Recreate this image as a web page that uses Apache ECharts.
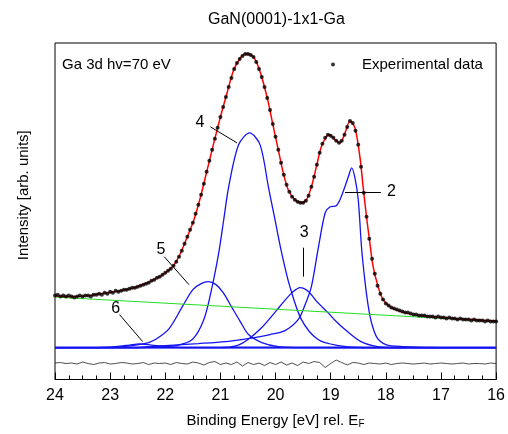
<!DOCTYPE html>
<html>
<head>
<meta charset="utf-8">
<script src="https://cdn.jsdelivr.net/npm/echarts@6/dist/echarts.min.js"></script>
<style>html,body{margin:0;padding:0;background:#fff}#c{width:508px;height:434px}</style>
</head>
<body>
<div id="c"></div>
<script>
// Binding energy ticks (eV)
const xTicks = [24, 23, 22, 21, 20, 19, 18, 17, 16];

// Experimental data [BE, intensity]
const expData = [
[24.00,52],[23.95,53],[23.90,51],[23.85,52],[23.80,51],[23.75,52],[23.70,51],[23.65,50],[23.60,51],[23.55,52],
[23.50,51],[23.45,52],[23.40,52],[23.35,51],[23.30,53],[23.25,53],[23.20,54],[23.15,53],[23.10,55],[23.05,54],
[23.00,56],[22.95,55],[22.90,57],[22.85,56],[22.80,57],[22.75,58],[22.70,58],[22.65,59],[22.60,60],[22.55,60],
[22.50,61],[22.45,62],[22.40,63],[22.35,64],[22.30,65],[22.25,67],[22.20,68],[22.15,70],[22.10,71],[22.05,73],
[22.00,75],[21.95,77],[21.90,79],[21.85,82],[21.80,86],[21.75,91],[21.70,97],[21.65,104],[21.60,111],[21.55,118],
[21.50,125],[21.45,134],[21.40,143],[21.35,153],[21.30,164],[21.25,176],[21.20,187],[21.15,198],[21.10,209],[21.05,220],
[21.00,231],[20.95,241],[20.90,251],[20.85,261],[20.80,270],[20.75,279],[20.70,285],[20.65,289],[20.60,292],[20.55,294],
[20.50,294],[20.45,293],[20.40,291],[20.35,286],[20.30,279],[20.25,271],[20.20,261],[20.15,250],[20.10,238],[20.05,224],
[20.00,211],[19.95,198],[19.90,185],[19.85,173],[19.80,163],[19.75,156],[19.70,151],[19.65,148],[19.60,146],[19.55,145],
[19.50,145],[19.45,147],[19.40,152],[19.35,161],[19.30,171],[19.25,183],[19.20,195],[19.15,204],[19.10,210],[19.05,213],
[19.00,212],[18.95,210],[18.90,207],[18.85,205],[18.80,207],[18.75,213],[18.70,221],[18.65,227],[18.60,225],[18.55,217],
[18.50,203],[18.45,181],[18.40,155],[18.35,131],[18.30,109],[18.25,89],[18.20,74],[18.15,62],[18.10,54],[18.05,48],
[18.00,44],[17.95,42],[17.90,40],[17.85,39],[17.80,38],[17.75,37],[17.70,36],[17.65,35],[17.60,35],[17.55,34],
[17.50,33],[17.45,33],[17.40,32],[17.35,32],[17.30,32],[17.25,31],[17.20,31],[17.15,31],[17.10,30],[17.05,31],
[17.00,30],[16.95,30],[16.90,29],[16.85,30],[16.80,29],[16.75,29],[16.70,28],[16.65,29],[16.60,28],[16.55,28],
[16.50,28],[16.45,27],[16.40,28],[16.35,27],[16.30,27],[16.25,27],[16.20,26],[16.15,27],[16.10,26],[16.05,26],[16.00,26]
];

// Fit envelope [BE, intensity]
const fitData = [
[24.00,51.5],[23.70,51],[23.40,52],[23.10,54.5],[22.80,57],[22.50,61],[22.20,68],[22.02,74],[21.84,83],[21.72,95],
[21.60,111],[21.48,128],[21.36,151],[21.24,178],[21.12,205],[21.00,231],[20.88,255],[20.76,278],[20.64,290],[20.55,294],
[20.50,294],[20.40,291],[20.31,281],[20.22,265],[20.13,245],[20.04,221],[19.95,198],[19.86,175],[19.77,158],[19.65,148],
[19.53,145],[19.44,148],[19.35,161],[19.26,181],[19.17,201],[19.08,211],[19.02,213],[18.92,208],[18.83,205],[18.74,215],
[18.65,227],[18.56,220],[18.47,191],[18.41,160],[18.35,131],[18.29,105],[18.23,81],[18.14,61],[18.05,48],[17.90,40],
[17.66,35],[17.36,32],[17.06,30.5],[16.76,29],[16.46,28],[16.00,26.5]
];

// Linear background [BE, intensity]
const bgData = [[24, 50.5], [16, 26.3]];

// Common zero baseline of the components [BE, intensity]
const zeroLine = [[24, 0], [16, 0]];

// Fit components [BE, intensity]
const comp2 = [[24,0],[22.6,0],[22.0,2],[21.4,4],[20.9,6],[20.5,9],[20.1,13],[19.83,17],[19.59,28],[19.47,42],[19.35,61],[19.23,98],[19.10,135],[19.01,141],[18.90,142],[18.81,151],[18.68,171],[18.62,180],[18.56,170],[18.50,148],[18.44,100],[18.38,67],[18.32,42],[18.26,25],[18.16,10],[18.00,3],[17.70,1],[17.00,0],[16,0]];
const comp3 = [[24,0],[21.0,0],[20.70,2],[20.50,8],[20.25,20],[20.00,36],[19.85,46],[19.70,55],[19.555,60],[19.40,56],[19.25,46],[19.05,35],[18.90,26],[18.74,18],[18.45,6],[18.15,1],[17.8,0],[16,0]];
const comp4 = [[24,0],[22.5,0],[22.11,1],[21.80,2],[21.51,8],[21.30,28],[21.15,61],[21.03,95],[20.94,128],[20.85,161],[20.67,203],[20.47,215],[20.28,203],[20.13,161],[20.01,128],[19.89,95],[19.74,61],[19.53,28],[19.23,8],[18.86,2],[18.40,0],[16,0]];
const comp5 = [[24,0],[23.0,0],[22.60,2],[22.30,5],[22.15,9],[21.93,19],[21.69,41],[21.50,58],[21.35,64],[21.22,66],[21.08,63],[20.95,55],[20.79,40],[20.65,27],[20.49,13],[20.25,5],[19.95,1],[19.5,0],[16,0]];
const comp6 = [[24,0],[23.30,0],[22.90,1],[22.65,2.5],[22.47,3.7],[22.25,2.5],[22.00,1],[21.70,0],[16,0]];

// Residual (data - fit) [BE, value]
const residual = [
[24.0,0.5],[23.9,1],[23.8,0],[23.7,0.5],[23.6,-0.5],[23.5,1.5],[23.4,0],[23.3,-1],[23.2,0.5],[23.1,1],
[23.0,-0.5],[22.9,0],[22.8,1],[22.7,0.5],[22.6,-0.5],[22.5,0],[22.4,1],[22.3,-1],[22.2,0.5],[22.1,0],
[22.0,0.5],[21.9,-1],[21.8,1],[21.7,0],[21.6,-0.5],[21.5,1.5],[21.4,0.5],[21.3,-1.5],[21.2,1],[21.1,2],
[21.0,-1],[20.9,0.5],[20.8,-1],[20.7,1.5],[20.6,-2.5],[20.5,1],[20.4,-1],[20.3,0.5],[20.2,-2],[20.1,1],
[20.0,-1],[19.9,1.5],[19.8,-1.5],[19.7,0.5],[19.6,-2],[19.5,1.5],[19.4,0],[19.3,2],[19.2,1],[19.1,-4],
[19.0,0],[18.9,3.5],[18.8,1],[18.7,-1.5],[18.6,1],[18.5,0.5],[18.4,-1],[18.3,0.5],[18.2,0],[18.1,-0.5],
[18.0,0.5],[17.9,-1],[17.8,0],[17.7,0.5],[17.6,0],[17.5,-0.5],[17.4,0],[17.3,0.5],[17.2,-0.5],[17.1,0],
[17.0,0.5],[16.9,0],[16.8,-0.5],[16.7,0],[16.6,0.5],[16.5,-0.5],[16.4,0],[16.3,0],[16.2,-0.5],[16.1,0.5],[16.0,0]
];
const residualOffset = -16;

// Peak labels and leader lines
const labelTexts = ['2', '3', '4', '5', '6'];
const labelPos = [[17.90,156],[19.48,115],[21.37,225],[22.08,98],[22.90,39]];
const leaderLines = [
  [[18.74,156],[18.09,156]],
  [[19.50,100],[19.50,71]],
  [[21.18,221],[20.70,205]],
  [[22.02,91],[21.57,63]],
  [[22.83,33],[22.41,6]]
];

const FONT = 'Liberation Sans, Arial, Helvetica, sans-serif';
const chart = echarts.init(document.getElementById('c'), null, {renderer: 'canvas'});

const compStyle = (data) => ({
  type: 'line', data: data, smooth: 0.3, showSymbol: false, symbol: 'none',
  lineStyle: {color: '#1414f0', width: 1.3}, z: 2, silent: true
});

const option = {
  animation: false,
  textStyle: {fontFamily: FONT},
  title: [
    {text: 'GaN(0001)-1x1-Ga', left: 208, top: 12, padding: 0,
     textStyle: {fontSize: 16, fontWeight: 'normal', color: '#000', fontFamily: FONT}},
    {text: 'Ga 3d hv=70 eV', left: 62, top: 57, padding: 0,
     textStyle: {fontSize: 15, fontWeight: 'normal', color: '#000', fontFamily: FONT}}
  ],
  legend: {
    data: ['Experimental data'], left: 331, top: 57, padding: 0,
    icon: 'circle', itemWidth: 4, itemHeight: 4,
    textStyle: {fontSize: 15, color: '#000', fontFamily: FONT, padding: [0, 0, 0, 22]}
  },
  grid: {left: 55, right: 9, top: 43, bottom: 54, show: true, borderColor: '#000', borderWidth: 1, containLabel: false},
  xAxis: {
    type: 'value', inverse: true, min: 16, max: 24, interval: 1,
    axisLine: {show: true, onZero: false, lineStyle: {color: '#000', width: 1}},
    axisTick: {show: true, inside: true, length: 7, lineStyle: {color: '#000', width: 1}},
    minorTick: {show: true, splitNumber: 4, length: 4, lineStyle: {color: '#000', width: 1}},
    splitLine: {show: false},
    axisLabel: {fontSize: 16, color: '#000', margin: 8, fontFamily: FONT,
      formatter: (v) => xTicks.indexOf(v) >= 0 ? String(v) : ''},
    name: '{n|Binding Energy [eV] rel. E}{s|F}',
    nameLocation: 'middle', nameGap: 32,
    nameTextStyle: {
      rich: {
        n: {fontSize: 15, color: '#000', fontFamily: FONT, lineHeight: 18},
        s: {fontSize: 10, color: '#000', fontFamily: FONT, lineHeight: 18, padding: [7, 0, 0, 0]}
      }
    }
  },
  yAxis: {
    type: 'value', min: -32, max: 305,
    axisLine: {show: false, onZero: false}, axisTick: {show: false}, axisLabel: {show: false}, splitLine: {show: false},
    name: 'Intensity [arb. units]', nameLocation: 'middle', nameGap: 24,
    nameTextStyle: {fontSize: 15, color: '#000', fontFamily: FONT, padding: [0, 0, 0, 32]}
  },
  series: [
    {type: 'line', data: zeroLine, showSymbol: false, symbol: 'none', lineStyle: {color: '#1414f0', width: 2}, z: 2, silent: true},
    compStyle(comp6), compStyle(comp5), compStyle(comp4), compStyle(comp3), compStyle(comp2),
    {type: 'line', data: bgData, showSymbol: false, symbol: 'none', lineStyle: {color: '#22dd22', width: 1}, z: 3, silent: true},
    {type: 'line', data: residual.map(p => [p[0], p[1] + residualOffset]), showSymbol: false, symbol: 'none',
     lineStyle: {color: '#222', width: 0.8}, z: 3, silent: true},
    {type: 'line', data: fitData, smooth: 0.3, showSymbol: false, symbol: 'none', lineStyle: {color: '#ff0000', width: 1.5}, z: 4, silent: true},
    {name: 'Experimental data', type: 'scatter', data: expData, symbol: 'circle', symbolSize: 4,
     itemStyle: {color: '#000'}, z: 5, silent: true},
    {type: 'lines', coordinateSystem: 'cartesian2d', data: leaderLines.map(c => ({coords: c})),
     lineStyle: {color: '#000', width: 1, opacity: 1}, symbol: 'none', z: 6, silent: true},
    {type: 'scatter', data: labelPos.map((p, i) => ({value: p, name: labelTexts[i]})), symbolSize: 1,
     itemStyle: {color: 'transparent'}, z: 6, silent: true,
     label: {show: true, position: 'inside', formatter: '{b}', fontSize: 16, color: '#000', opacity: 1, fontFamily: FONT}}
  ]
};
chart.setOption(option);
</script>
</body>
</html>
